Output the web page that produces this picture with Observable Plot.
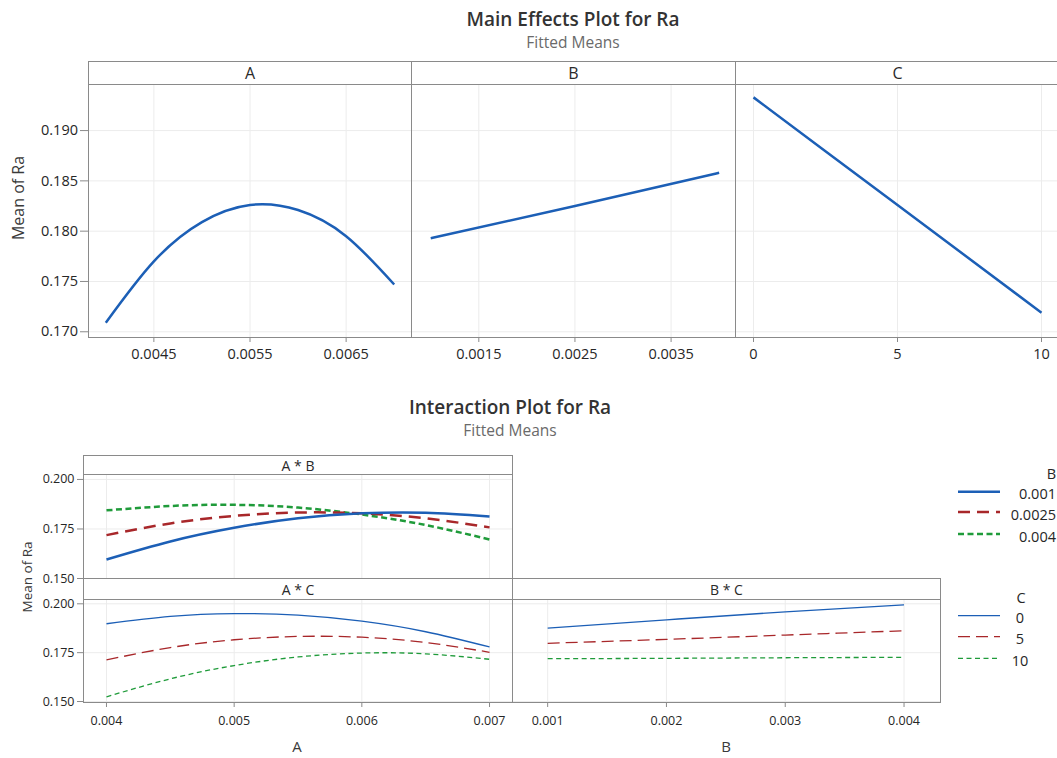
<!DOCTYPE html>
<html><head><meta charset="utf-8">
<script src="https://cdn.jsdelivr.net/npm/d3@7"></script>
<script src="https://cdn.jsdelivr.net/npm/@observablehq/plot@0.6"></script>
<style>
body{margin:0;background:#fff;font-family:"Open Sans",sans-serif;}
#wrap{position:relative;width:1057px;height:758px;overflow:hidden;background:#fff;}
.strip{position:absolute;box-sizing:border-box;border:1px solid #8a8a8a;background:#fff;display:flex;align-items:center;justify-content:center;color:#2a2a2a;font-family:"Open Sans",sans-serif;}
</style></head><body><div id="wrap"></div><script>
// ---------- data ----------
const mainFactors = ["A", "B", "C"];
const interactionLabels = ["A * B", "A * C", "B * C"];

const aMainX = [0.004, 0.0045, 0.005, 0.0055, 0.006, 0.0065, 0.007];
const aMainY = [0.1709, 0.1770, 0.1809, 0.1826, 0.1821, 0.1795, 0.1747];
const bMainX = [0.001, 0.0025, 0.004];
const bMainY = [0.1793, 0.1825, 0.1858];
const cMainX = [0, 5, 10];
const cMainY = [0.1933, 0.1826, 0.1719];

const aLevels = [0.004, 0.0045, 0.005, 0.0055, 0.006, 0.0065, 0.007];
const abB0010 = [0.1596, 0.1687, 0.1756, 0.1804, 0.1829, 0.1832, 0.1813];
const abB0025 = [0.1719, 0.1778, 0.1816, 0.1833, 0.1829, 0.1804, 0.1758];
const abB0040 = [0.1844, 0.1866, 0.1872, 0.1858, 0.1823, 0.1770, 0.1697];
const acC0  = [0.1898, 0.1936, 0.1950, 0.1942, 0.1911, 0.1857, 0.1779];
const acC5  = [0.1713, 0.1776, 0.1816, 0.1833, 0.1829, 0.1802, 0.1752];
const acC10 = [0.1524, 0.1616, 0.1684, 0.1728, 0.1748, 0.1744, 0.1716];
const bLevels = [0.001, 0.002, 0.003, 0.004];
const bcC0  = [0.1876, 0.1918, 0.1959, 0.1995];
const bcC5  = [0.1798, 0.1818, 0.1840, 0.1862];
const bcC10 = [0.1719, 0.1721, 0.1724, 0.1726];

const yTicksMain = [0.170, 0.175, 0.180, 0.185, 0.190];
const aTicksMain = [0.0045, 0.0055, 0.0065];
const bTicksMain = [0.0015, 0.0025, 0.0035];
const cTicksMain = [0, 5, 10];
const yTicksInt = [0.150, 0.175, 0.200];
const aTicksInt = [0.004, 0.005, 0.006, 0.007];
const bTicksInt = [0.001, 0.002, 0.003, 0.004];

const bLegend = ["0.001", "0.0025", "0.004"];
const cLegend = ["0", "5", "10"];

// ---------- styles ----------
const BLUE = "#1c5fb6", RED = "#a8272a", GREEN = "#1f9b3a";
const FRAME = "#8a8a8a", GRID = "#ececec", TXT = "#262626";
const FONT = "Open Sans";

const wrap = document.getElementById("wrap");
const rows = (xs, ys) => xs.map((x, i) => ({x, y: ys[i]}));

function place(el, x, y) {
  el.style.position = "absolute";
  el.style.left = x + "px";
  el.style.top = y + "px";
  wrap.append(el);
}

function strip(label, x, y, w, h, fs) {
  const d = document.createElement("div");
  d.className = "strip";
  d.style.width = (w + 1) + "px";
  d.style.height = (h + 1) + "px";
  d.style.fontSize = fs + "px";
  d.textContent = label;
  place(d, x, y);
}

function panel(o) {
  const ml = 70, mr = 20, mt = 10, mb = 40;
  const marks = [
    Plot.gridX(o.xTicks, {stroke: GRID, strokeOpacity: 1}),
    Plot.gridY(o.yTicks, {stroke: GRID, strokeOpacity: 1}),
    ...o.series.map(s => Plot.line(rows(s.xs, s.ys), {
      x: "x", y: "y", stroke: s.color, strokeWidth: s.width,
      strokeDasharray: s.dash, strokeLinecap: "butt", curve: "natural"
    })),
    Plot.frame({stroke: FRAME})
  ];
  if (o.xAxis) marks.push(Plot.axisX(o.xTicks, {
    tickSize: 5, tickPadding: o.xPad, fontSize: o.fs, tickFormat: o.xFmt,
    stroke: FRAME, fill: TXT, label: null
  }));
  if (o.yAxis) marks.push(Plot.axisY(o.yTicks, {
    tickSize: o.ySize, tickPadding: o.yPad, fontSize: o.fs, tickFormat: d => d.toFixed(3),
    stroke: FRAME, fill: TXT, label: null
  }));
  const svg = Plot.plot({
    width: o.w + ml + mr, height: o.h + mt + mb,
    marginLeft: ml, marginRight: mr, marginTop: mt, marginBottom: mb,
    x: {domain: o.xd, axis: null},
    y: {domain: o.yd, axis: null},
    style: {fontFamily: FONT, background: "transparent", overflow: "visible", maxWidth: "none"},
    marks
  });
  place(svg, o.x - ml, o.y - mt);
}

// ---------- main effects ----------
const mainY = [0.16943, 0.19458];
const mainTop = 84, mainH = 253;
const mainPanels = [
  {x: 88, w: 323, xd: [0.00382, 0.00718], xTicks: aTicksMain, xFmt: d => d.toFixed(4), xs: aMainX, ys: aMainY, yAxis: true},
  {x: 411, w: 324, xd: [0.00080, 0.00417], xTicks: bTicksMain, xFmt: d => d.toFixed(4), xs: bMainX, ys: bMainY, yAxis: false},
  {x: 735, w: 324, xd: [-0.625, 10.625], xTicks: cTicksMain, xFmt: d => String(d), xs: cMainX, ys: cMainY, yAxis: false}
];
mainPanels.forEach((p, i) => {
  panel({
    x: p.x, y: mainTop, w: p.w, h: mainH, xd: p.xd, yd: mainY,
    xTicks: p.xTicks, yTicks: yTicksMain, xFmt: p.xFmt, xAxis: true, xPad: 6,
    yAxis: p.yAxis, ySize: 8, yPad: 2.5, fs: 14.5,
    series: [{xs: p.xs, ys: p.ys, color: BLUE, width: 2.5}]
  });
  strip(mainFactors[i], p.x, 61, p.w, 23, 16);
});

// ---------- interaction ----------
const thick = 2.5, thin = 1.3;
const dashR = "12,7", dashG = "6,3.5";
const dashRt = "12,6", dashGt = "5,3.5";
panel({
  x: 83, y: 474, w: 429, h: 104, xd: [0.00382, 0.00718], yd: [0.1500, 0.2025],
  xTicks: aTicksInt, yTicks: yTicksInt, xAxis: false,
  yAxis: true, ySize: 6, yPad: 3, fs: 12.5,
  series: [
    {xs: aLevels, ys: abB0040, color: GREEN, width: thick, dash: dashG},
    {xs: aLevels, ys: abB0025, color: RED, width: thick, dash: dashR},
    {xs: aLevels, ys: abB0010, color: BLUE, width: thick}
  ]
});
panel({
  x: 83, y: 599, w: 429, h: 103, xd: [0.00382, 0.00718], yd: [0.1495, 0.2022],
  xTicks: aTicksInt, yTicks: yTicksInt, xAxis: true, xPad: 9, xFmt: d => d.toFixed(3),
  yAxis: true, ySize: 6, yPad: 3, fs: 12.5,
  series: [
    {xs: aLevels, ys: acC10, color: GREEN, width: thin, dash: dashGt},
    {xs: aLevels, ys: acC5, color: RED, width: thin, dash: dashRt},
    {xs: aLevels, ys: acC0, color: BLUE, width: thin}
  ]
});
panel({
  x: 512, y: 599, w: 428, h: 103, xd: [0.000704, 0.004307], yd: [0.1495, 0.2022],
  xTicks: bTicksInt, yTicks: yTicksInt, xAxis: true, xPad: 9, xFmt: d => d.toFixed(3),
  yAxis: false, fs: 12.5,
  series: [
    {xs: bLevels, ys: bcC10, color: GREEN, width: thin, dash: dashGt},
    {xs: bLevels, ys: bcC5, color: RED, width: thin, dash: dashRt},
    {xs: bLevels, ys: bcC0, color: BLUE, width: thin}
  ]
});
strip(interactionLabels[0], 83, 455, 429, 19, 14);
strip(interactionLabels[1], 83, 578, 429, 21, 14);
strip(interactionLabels[2], 512, 578, 428, 21, 14);

// ---------- overlay: titles, axis titles, legends ----------
const ov = d3.create("svg").attr("width", 1057).attr("height", 758)
  .style("position", "absolute").style("left", "0px").style("top", "0px")
  .style("pointer-events", "none").style("font-family", FONT);
function txt(s, x, y, fs, opts = {}) {
  const t = ov.append("text").attr("x", x).attr("y", y).attr("font-size", fs)
    .attr("text-anchor", opts.anchor || "middle").attr("fill", opts.fill || TXT)
    .attr("font-weight", opts.weight || 400).text(s);
  if (opts.rotate) t.attr("transform", `rotate(-90 ${x} ${y})`).attr("dominant-baseline", "central");
  if (opts.central) t.attr("dominant-baseline", "central");
  return t;
}
txt("Main Effects Plot for Ra", 573, 26, 19, {weight: 600, fill: "#333"});
txt("Fitted Means", 573, 48, 15.5, {fill: "#6a6a6a"});
txt("Interaction Plot for Ra", 510, 414, 19, {weight: 600, fill: "#333"});
txt("Fitted Means", 510, 436, 15.5, {fill: "#6a6a6a"});
txt("Mean of Ra", 18, 198, 16, {rotate: true, fill: "#3a3a3a"});
txt("Mean of Ra", 27, 577, 13.5, {rotate: true, fill: "#3a3a3a"});
txt("A", 297, 752, 15, {fill: "#3a3a3a"});
txt("B", 726, 752, 15, {fill: "#3a3a3a"});

// legend B
txt("B", 1056, 473, 14.5, {central: true, anchor: "end"});
const bStyles = [{c: BLUE, d: null}, {c: RED, d: dashR}, {c: GREEN, d: dashG}];
const bYs = [491.7, 512, 534];
bLegend.forEach((lab, i) => {
  ov.append("line").attr("x1", 958).attr("x2", 1000).attr("y1", bYs[i]).attr("y2", bYs[i])
    .attr("stroke", bStyles[i].c).attr("stroke-width", thick).attr("stroke-dasharray", bStyles[i].d);
  txt(lab, 1056, bYs[i] + 2, 14.5, {central: true, anchor: "end"});
});
// legend C
txt("C", 1021, 597, 14.5, {central: true});
const cStyles = [{c: BLUE, d: null}, {c: RED, d: dashRt}, {c: GREEN, d: dashGt}];
const cYs = [615.7, 636.7, 658.3];
cLegend.forEach((lab, i) => {
  ov.append("line").attr("x1", 958).attr("x2", 1000).attr("y1", cYs[i]).attr("y2", cYs[i])
    .attr("stroke", cStyles[i].c).attr("stroke-width", thin).attr("stroke-dasharray", cStyles[i].d);
  txt(lab, 1020, cYs[i] + 2, 14.5, {central: true});
});
wrap.append(ov.node());
</script></body></html>
